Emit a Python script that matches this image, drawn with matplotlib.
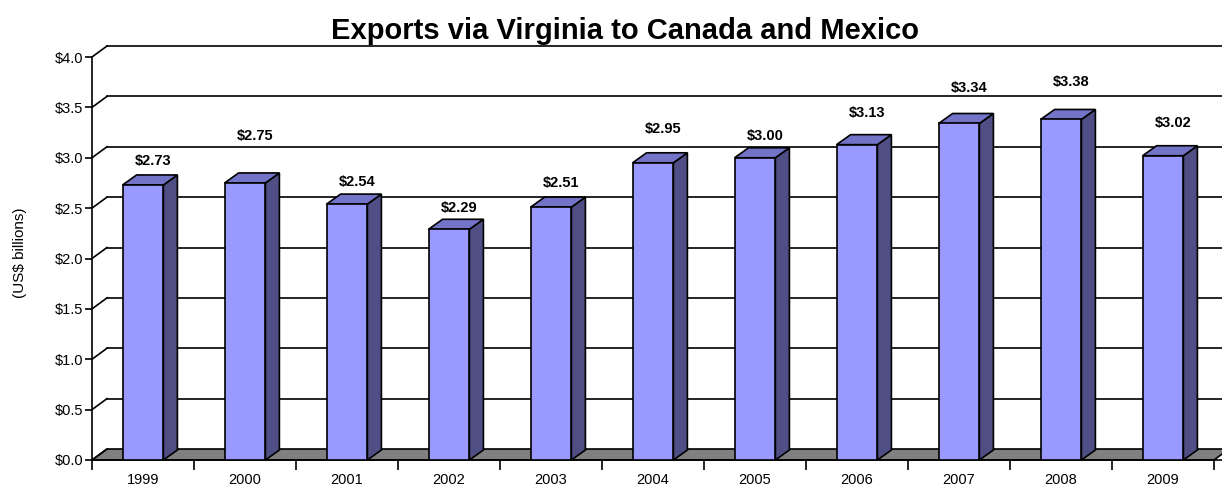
import matplotlib
matplotlib.use("Agg")
import matplotlib.pyplot as plt
from matplotlib.patches import Polygon

# ---- data ----
years = ["1999", "2000", "2001", "2002", "2003", "2004", "2005", "2006", "2007", "2008", "2009"]
exports = [2.73, 2.75, 2.54, 2.29, 2.51, 2.95, 3.00, 3.13, 3.34, 3.38, 3.02]
value_labels = ["$2.73", "$2.75", "$2.54", "$2.29", "$2.51", "$2.95", "$3.00", "$3.13", "$3.34", "$3.38", "$3.02"]
y_ticks = [0.0, 0.5, 1.0, 1.5, 2.0, 2.5, 3.0, 3.5, 4.0]
y_tick_labels = ["$0.0", "$0.5", "$1.0", "$1.5", "$2.0", "$2.5", "$3.0", "$3.5", "$4.0"]
title = "Exports via Virginia to Canada and Mexico"
y_title = "(US$ billions)"

# label placement above each bar (pixels), as in the original layout
label_rise_px = [24, 47, 22, 21, 24, 34, 22, 32, 35, 37, 33]

# ---- style ----
FRONT = "#9999FF"
TOP = "#7373C8"
SIDE = "#4F4F85"
FLOOR = "#808080"
LW = 1.2
plt.rcParams["font.family"] = ["Liberation Sans", "DejaVu Sans"]

W, H = 1222, 487
fig = plt.figure(figsize=(W / 100, H / 100), dpi=100)
x0_px, y0_px, top_px = 92, 460, 40
ax = fig.add_axes([x0_px / W, (H - y0_px) / H, (W - x0_px) / W, (y0_px - top_px) / H])

px_per_cat = 102.0
px_per_unit = 100.75
n = len(years)
ax.set_xlim(0, (W - x0_px) / px_per_cat)
ax.set_ylim(0, (y0_px - top_px) / px_per_unit)

# depth offsets (data units)
wdx, wdy = 15 / px_per_cat, 11 / px_per_unit   # walls / floor
bdx, bdy = 14 / px_per_cat, 10 / px_per_unit   # bars
bar_l, bar_r = 0.30, 0.70
xmax = ax.get_xlim()[1] + 1

# floor
floor = Polygon([(0, 0), (n, 0), (n + wdx, wdy), (wdx, wdy)], closed=True,
                facecolor=FLOOR, edgecolor="black", lw=LW, zorder=1, clip_on=False)
ax.add_patch(floor)
ax.plot([0, xmax], [0, 0], color="black", lw=LW, zorder=1.5, clip_on=False)

# gridlines on back wall + left wall diagonals
for yv in y_ticks:
    ax.plot([0, wdx], [yv, yv + wdy], color="black", lw=LW, zorder=1, clip_on=False)
    if yv > 0:
        ax.plot([wdx, xmax], [yv + wdy, yv + wdy], color="black", lw=LW, zorder=0.8, clip_on=False)

# bars
for i, v in enumerate(exports):
    xl, xr = i + bar_l, i + bar_r
    front = Polygon([(xl, 0), (xr, 0), (xr, v), (xl, v)], closed=True,
                    facecolor=FRONT, edgecolor="black", lw=LW, zorder=3)
    side = Polygon([(xr, 0), (xr + bdx, bdy), (xr + bdx, v + bdy), (xr, v)], closed=True,
                   facecolor=SIDE, edgecolor="black", lw=LW, zorder=3)
    top = Polygon([(xl, v), (xr, v), (xr + bdx, v + bdy), (xl + bdx, v + bdy)], closed=True,
                  facecolor=TOP, edgecolor="black", lw=LW, zorder=3)
    for p in (side, top, front):
        ax.add_patch(p)
    ax.annotate(value_labels[i], xy=((xl + xr) / 2, v), xytext=(10, label_rise_px[i]),
                textcoords="offset pixels", ha="center", va="center",
                fontsize=10.5, fontweight="bold", zorder=5)

# axes styling
for s in ["top", "right", "bottom"]:
    ax.spines[s].set_visible(False)
ax.spines["left"].set_bounds(0, 4.0)
ax.spines["left"].set_linewidth(LW)
ax.spines["left"].set_zorder(4)

ax.set_yticks(y_ticks)
ax.set_yticklabels(y_tick_labels, fontsize=10.5)
ax.tick_params(axis="y", direction="out", length=5, width=LW, pad=1)

ax.set_xticks(range(n + 1))
ax.set_xticklabels([""] * (n + 1))
ax.tick_params(axis="x", which="major", direction="out", length=7, width=LW, bottom=True)
ax.set_xticks([i + 0.5 for i in range(n)], minor=True)
ax.set_xticklabels(years, minor=True, fontsize=10.5)
ax.tick_params(axis="x", which="minor", length=0, pad=9)
ax.patch.set_visible(False)

fig.text(625 / W, 1 - 39 / H, title, ha="center", va="baseline",
         fontsize=21, fontweight="bold")
fig.text(20 / W, 1 - 253 / H, y_title, rotation=90, ha="center", va="center", fontsize=11)

fig.savefig("out.png", dpi=100)
